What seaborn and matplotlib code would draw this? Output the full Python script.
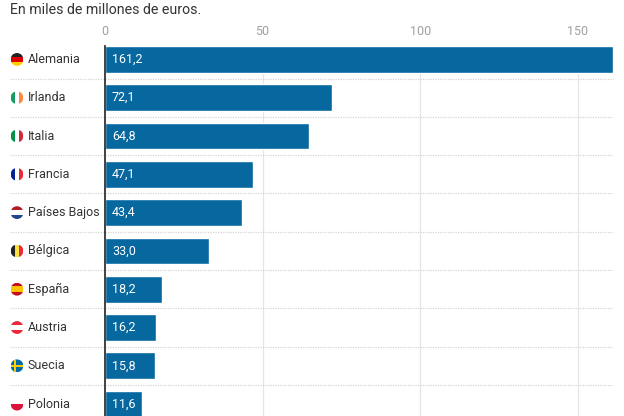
import matplotlib
matplotlib.use("Agg")
import matplotlib.pyplot as plt
import matplotlib.transforms as mtransforms
from matplotlib.patches import Circle, Rectangle
import seaborn as sns
import pandas as pd

# data
countries = ['Alemania', 'Irlanda', 'Italia', 'Francia', 'Países Bajos',
             'Bélgica', 'España', 'Austria', 'Suecia', 'Polonia']
values = [161.2, 72.1, 64.8, 47.1, 43.4, 33.0, 18.2, 16.2, 15.8, 11.6]
value_labels = ['161,2', '72,1', '64,8', '47,1', '43,4', '33,0', '18,2', '16,2', '15,8', '11,6']
x_ticks = [0, 50, 100, 150]

# flag stripes: (orientation, colours)
flags = {
    'Alemania': ('h', ['#222222', '#dd0000', '#ffce00']),
    'Irlanda': ('v', ['#169b62', '#ffffff', '#ff883e']),
    'Italia': ('v', ['#009246', '#ffffff', '#ce2b37']),
    'Francia': ('v', ['#002395', '#ffffff', '#ed2939']),
    'Países Bajos': ('h', ['#ae1c28', '#ffffff', '#21468b']),
    'Bélgica': ('v', ['#222222', '#fae042', '#ed2939']),
    'España': ('h', ['#c60b1e', '#ffc400', '#ffc400', '#c60b1e']),
    'Austria': ('h', ['#ed2939', '#ffffff', '#ed2939']),
    'Suecia': ('se', ['#006aa7', '#fecc00']),
    'Polonia': ('h', ['#ffffff', '#dc143c']),
}

df = pd.DataFrame({'pais': countries, 'valor': values})

sns.set_theme(style='white')
plt.rcParams['font.family'] = ['Roboto', 'DejaVu Sans']

W, H = 624, 416
fig = plt.figure(figsize=(W / 100, H / 100), dpi=100)
ax = fig.add_axes([105 / W, 0, (613 - 105) / W, (416 - 46) / H])

bar_color = '#0768a0'
sns.barplot(data=df, x='valor', y='pais', orient='h', color=bar_color,
            width=0.7, saturation=1, ax=ax, zorder=3)

ax.set_xlim(0, 161.2)
ax.set_ylim(9.31, -0.35)
ax.xaxis.tick_top()
ax.set_xticks(x_ticks)
ax.set_xticklabels([str(t) for t in x_ticks])
ax.tick_params(axis='x', length=0, pad=6, labelsize=9, labelcolor='#a0a0a0')
ax.set_yticks([])
ax.set_xlabel('')
ax.set_ylabel('')

for s in ['top', 'right', 'bottom']:
    ax.spines[s].set_visible(False)
ax.spines['left'].set_color('#333333')
ax.spines['left'].set_linewidth(1.3)
ax.spines['left'].set_zorder(5)

# vertical grid
for t in x_ticks[1:]:
    ax.axvline(t, color='#e6e6e6', lw=0.9, zorder=1)

# dotted row separators
for i in range(len(countries) - 1):
    ax.axhline(i + 0.5, xmin=(10 - 105) / 508, xmax=1, color='#d5d5d5',
               lw=0.9, ls=(0, (1, 1)), clip_on=False, zorder=1)

# value labels inside bars
for i, lab in enumerate(value_labels):
    ax.text(2.2, i, lab, color='white', fontsize=9, va='center', ha='left', zorder=6)

# country labels and flags
blend = mtransforms.blended_transform_factory(fig.transFigure, ax.transData)
r = 0.064
for i, c in enumerate(countries):
    ax.text(28 / W, i, c, transform=blend, fontsize=9, color='#333333',
            va='center', ha='left', clip_on=False)
    tr = fig.dpi_scale_trans + mtransforms.ScaledTranslation(17 / W, i, blend)
    circ = Circle((0, 0), r, transform=tr, facecolor='none', edgecolor='none')
    fig.add_artist(circ)
    kind, cols = flags[c]
    n = len(cols)
    if kind == 'h':
        for k, col in enumerate(cols):
            y0 = r - (k + 1) * 2 * r / n
            p = Rectangle((-r, y0), 2 * r, 2 * r / n, transform=tr,
                          facecolor=col, edgecolor='none')
            fig.add_artist(p)
            p.set_clip_path(circ)
    elif kind == 'v':
        for k, col in enumerate(cols):
            x0 = -r + k * 2 * r / n
            p = Rectangle((x0, -r), 2 * r / n, 2 * r, transform=tr,
                          facecolor=col, edgecolor='none')
            fig.add_artist(p)
            p.set_clip_path(circ)
    else:
        parts = [Rectangle((-r, -r), 2 * r, 2 * r, facecolor=cols[0]),
                 Rectangle((-r, -0.2 * r), 2 * r, 0.4 * r, facecolor=cols[1]),
                 Rectangle((-0.5 * r, -r), 0.4 * r, 2 * r, facecolor=cols[1])]
        for p in parts:
            p.set_transform(tr)
            p.set_edgecolor('none')
            fig.add_artist(p)
            p.set_clip_path(circ)

fig.text(10 / W, 1 - 10 / H, 'En miles de millones de euros.', fontsize=10.2,
         color='#333333', va='center', ha='left')

fig.savefig('out.png', dpi=100)
